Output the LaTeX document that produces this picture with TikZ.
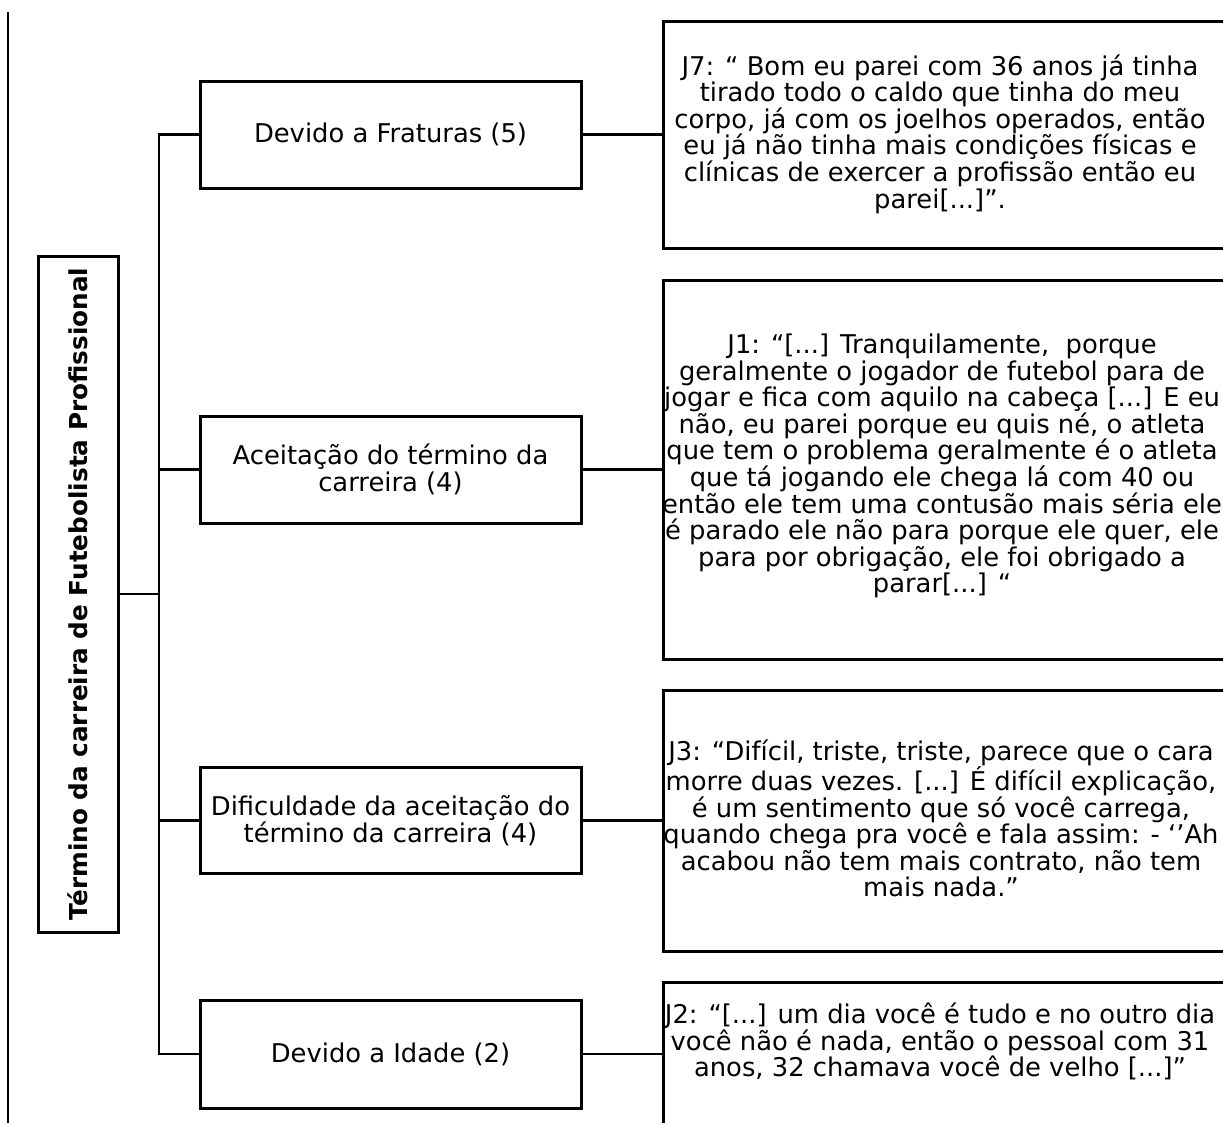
\documentclass[tikz,border=0pt]{standalone}
\usepackage{fontspec}
\setmainfont{DejaVu Sans}
\begin{document}
\begin{tikzpicture}[x=1pt,y=-1pt,
  txt/.style={font=\fontsize{25.8}{26.6}\selectfont, align=center, inner sep=0pt},
  catbox/.style={draw, line width=3pt, outer sep=0pt, minimum width=381pt, inner sep=0pt, txt},
  quotebox/.style={draw, line width=3pt, outer sep=0pt, anchor=north west, minimum width=590pt, inner sep=0pt},
  conn/.style={line width=2.8pt}]
\useasboundingbox (0,0) rectangle (1223,1122);
\clip (0,0) rectangle (1223,1122);

% thin rule on the left
\draw[line width=1.6pt] (8,12) -- (8,1130);

% title box
\node[draw, line width=3pt, outer sep=0pt, minimum width=80pt, minimum height=676pt, inner sep=0pt] (title) at (78,594)
  {\rotatebox{90}{\fontsize{24.7}{26}\selectfont\bfseries Término da carreira de Futebolista Profissional}};

% category boxes
\node[catbox, minimum height=107pt] (b1) at (390.5,134.5) {Devido a Fraturas (5)};
\node[catbox, minimum height=107pt] (b2) at (390.5,469.5) {Aceitação do término da\\carreira (4)};
\node[catbox, minimum height=106pt] (b3) at (390.5,820.5) {Dificuldade da aceitação do\\término da carreira (4)};
\node[catbox, minimum height=108pt] (b4) at (390.5,1054) {Devido a Idade (2)};

% quotation boxes (open to the right edge)
\node[quotebox, minimum height=227pt] (q1) at (663,21) {};
\node[quotebox, minimum height=379pt] (q2) at (663,280) {};
\node[quotebox, minimum height=261pt] (q3) at (663,690) {};
\node[quotebox, minimum height=144pt] (q4) at (663,982) {};

\node[txt] (t1) at (940,134) {J7: “ Bom eu parei com 36 anos já tinha\\
tirado todo o caldo que tinha do meu\\
corpo, já com os joelhos operados, então\\
eu já não tinha mais condições físicas e\\
clínicas de exercer a profissão então eu\\
parei[...]”.};

\node[txt] (t2) at (942,466) {J1: “[...] Tranquilamente,\ \ porque\\
geralmente o jogador de futebol para de\\
jogar e fica com aquilo na cabeça [...] E eu\\
não, eu parei porque eu quis né, o atleta\\
que tem o problema geralmente é o atleta\\
que tá jogando ele chega lá com 40 ou\\
então ele tem uma contusão mais séria ele\\
é parado ele não para porque ele quer, ele\\
para por obrigação, ele foi obrigado a\\
parar[...] “};

\node[txt] (t3) at (941,818.5) {J3: “Difícil, triste, triste, parece que o cara\\
morre duas vezes. [...] É difícil explicação,\\
é um sentimento que só você carrega,\\
quando chega pra você e fala assim: - ‘’Ah\\
acabou não tem mais contrato, não tem\\
mais nada.”};

\node[txt] (t4) at (940,1041.5) {J2: “[...] um dia você é tudo e no outro dia\\
você não é nada, então o pessoal com 31\\
anos, 32 chamava você de velho [...]”};

% connectors
\coordinate (trunk) at (159,594);
\draw[conn] (title.east) -- (trunk);
\draw[conn] (b1.west) -- ++(-41,0) |- (b4.west);
\draw[conn] (b2.west) -- ++(-41,0);
\draw[conn] (b3.west) -- ++(-41,0);
\draw[conn] (b1.east) -- (q1.west);
\draw[conn] (b2.east) -- (q2.west);
\draw[conn] (b3.east) -- (q3.west);
\draw[conn] (b4.east) -- (q4.west);
\end{tikzpicture}
\end{document}
